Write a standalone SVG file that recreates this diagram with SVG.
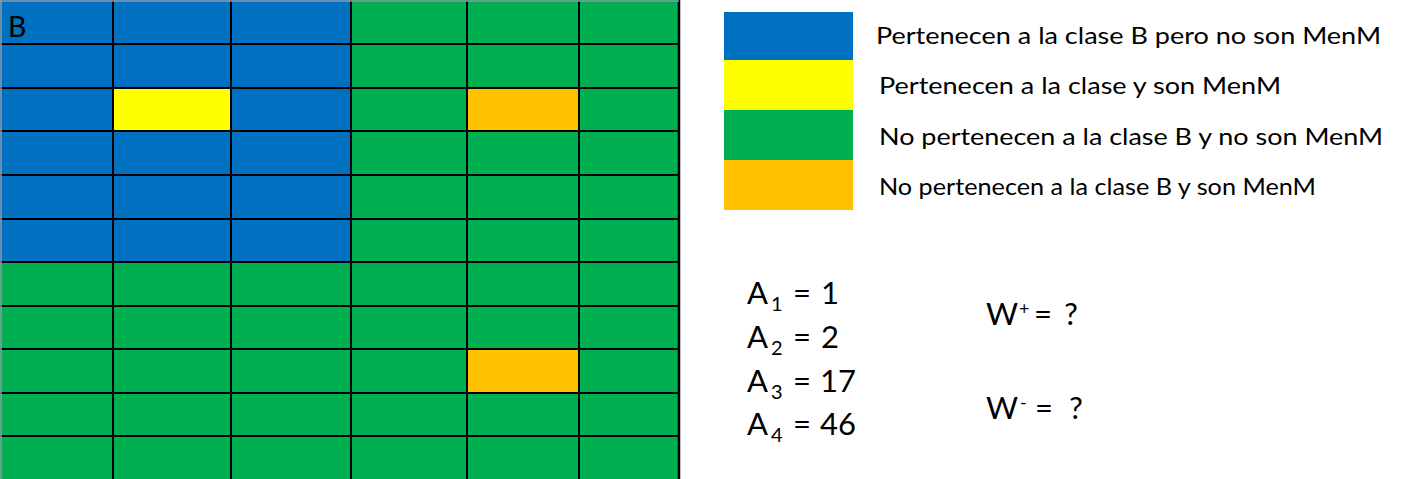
<svg xmlns="http://www.w3.org/2000/svg" width="1404" height="479" viewBox="0 0 1404 479">
<style>
.c{stroke:#000;stroke-width:2}
.b{fill:#0070C0}.y{fill:#FFFF00}.g{fill:#00B050}.o{fill:#FFC000}
text{font-family:Lato,"Liberation Sans",sans-serif;fill:#000}
.lg{font-size:23.5px}
.eq{font-size:31px}
.sub{font-size:20px}
.sup{font-size:18px}
</style>
<rect width="1404" height="479" fill="#fff"/>
<g id="grid">
<rect x="0" y="0" width="679" height="479" class="g"/>
<rect x="0" y="0" width="351" height="262" class="b"/>
<rect x="113" y="88" width="118" height="43" class="y"/>
<rect x="467" y="88" width="112" height="43" class="o"/>
<rect x="467" y="349" width="112" height="44" class="o"/>
<g class="c">
<line x1="113" y1="0" x2="113" y2="479"/>
<line x1="231" y1="0" x2="231" y2="479"/>
<line x1="351" y1="0" x2="351" y2="479"/>
<line x1="467" y1="0" x2="467" y2="479"/>
<line x1="579" y1="0" x2="579" y2="479"/>
<line x1="679" y1="0" x2="679" y2="479" stroke-width="2.5"/>
<line x1="0" y1="44" x2="679" y2="44"/>
<line x1="0" y1="88" x2="679" y2="88"/>
<line x1="0" y1="131" x2="679" y2="131"/>
<line x1="0" y1="175" x2="679" y2="175"/>
<line x1="0" y1="219" x2="679" y2="219"/>
<line x1="0" y1="262" x2="679" y2="262"/>
<line x1="0" y1="306" x2="679" y2="306"/>
<line x1="0" y1="349" x2="679" y2="349"/>
<line x1="0" y1="393" x2="679" y2="393"/>
<line x1="0" y1="436" x2="679" y2="436"/>
</g>
<line x1="0" y1="1" x2="679" y2="1" stroke="#8a9aa8" stroke-width="1.5"/>
<line x1="1" y1="0" x2="1" y2="479" stroke="#8a9aa8" stroke-width="1.5"/>
<text x="8" y="37" font-size="28.5px">B</text>
</g>
<g id="legend">
<rect x="724" y="12" width="129" height="48" class="b"/>
<rect x="724" y="60" width="129" height="50" class="y"/>
<rect x="724" y="110" width="129" height="50" class="g"/>
<rect x="724" y="160" width="129" height="50" class="o"/>
<text class="lg" x="876" y="44" textLength="505" lengthAdjust="spacingAndGlyphs">Pertenecen a la clase B pero no son MenM</text>
<text class="lg" x="879" y="94" textLength="402" lengthAdjust="spacingAndGlyphs">Pertenecen a la clase y son MenM</text>
<text class="lg" x="879" y="145" textLength="504" lengthAdjust="spacingAndGlyphs">No pertenecen a la clase B y no son MenM</text>
<text class="lg" x="879" y="195" textLength="437" lengthAdjust="spacingAndGlyphs">No pertenecen a la clase B y son MenM</text>
</g>
<g id="areas" class="eq">
<text x="747" y="304">A<tspan class="sub" x="771" dy="7">1</tspan><tspan x="793" dy="-7">=</tspan><tspan x="821">1</tspan></text>
<text x="747" y="348">A<tspan class="sub" x="771" dy="7">2</tspan><tspan x="793" dy="-7">=</tspan><tspan x="821">2</tspan></text>
<text x="747" y="392">A<tspan class="sub" x="771" dy="7">3</tspan><tspan x="793" dy="-7">=</tspan><tspan x="820">17</tspan></text>
<text x="747" y="435">A<tspan class="sub" x="771" dy="7">4</tspan><tspan x="793" dy="-7">=</tspan><tspan x="820">46</tspan></text>
</g>
<g id="weights" class="eq">
<text x="986" y="325">W<tspan class="sup" x="1019" dy="-10">+</tspan><tspan x="1034" dy="10">=</tspan><tspan x="1064">?</tspan></text>
<text x="986" y="419">W<tspan class="sup" x="1020" dy="-10">-</tspan><tspan x="1035" dy="10">=</tspan><tspan x="1069">?</tspan></text>
</g>
</svg>
